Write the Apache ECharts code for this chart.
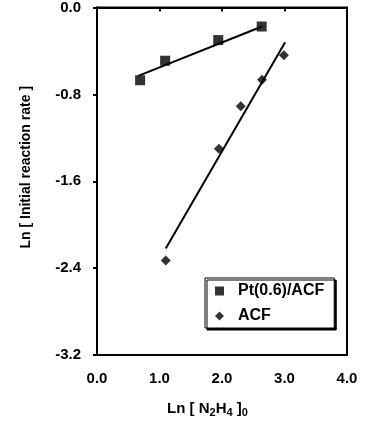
<!DOCTYPE html>
<html>
<head>
<meta charset="utf-8">
<script src="https://cdn.jsdelivr.net/npm/echarts@6/dist/echarts.min.js"></script>
<style>
    html, body {margin: 0; padding: 0; background: #fff;}
    #chart {width: 366px; height: 426px;}
</style>
</head>
<body>
<div id="chart"></div>
<script>
    // measured points, ln scale
    var ptX = [0.69, 1.09, 1.94, 2.635];
    var ptY = [-0.67, -0.49, -0.30, -0.175];
    var acfX = [1.10, 1.95, 2.30, 2.64, 2.99];
    var acfY = [-2.33, -1.30, -0.91, -0.665, -0.44];
    // fitted lines (end points)
    var ptFitX = [0.66, 2.64];
    var ptFitY = [-0.63, -0.175];
    var acfFitX = [1.10, 3.01];
    var acfFitY = [-2.22, -0.32];

    function pairs(xs, ys) {
        return xs.map(function (x, i) {
            return [x, ys[i]];
        });
    }

    var font = 'Liberation Sans, Arial, sans-serif';
    var chart = echarts.init(document.getElementById('chart'));
    var option = {
        animation: false,
        backgroundColor: '#fff',
        grid: {
            left: 97, right: 19, top: 7, bottom: 71,
            show: true, borderColor: '#000', borderWidth: 2
        },
        legend: {
            orient: 'vertical',
            left: 205,
            top: 278,
            padding: [5, 10, 4, 10],
            itemGap: 9,
            itemWidth: 9,
            itemHeight: 9,
            backgroundColor: '#fff',
            borderColor: '#000',
            borderWidth: 1,
            shadowColor: '#000',
            shadowBlur: 0,
            shadowOffsetX: 2,
            shadowOffsetY: 2,
            textStyle: {fontFamily: font, fontWeight: 'bold', fontSize: 16, color: '#000', padding: [0, 0, 0, 9]},
            data: [
                {name: 'Pt(0.6)/ACF', icon: 'rect'},
                {name: 'ACF', icon: 'diamond'}
            ]
        },
        xAxis: {
            type: 'value',
            min: 0, max: 4, interval: 1,
            name: 'Ln [ N{sub|2}H{sub|4} ]{sub|0}',
            nameLocation: 'middle',
            nameGap: 45,
            nameTextStyle: {
                fontFamily: font, fontWeight: 'bold', fontSize: 15, color: '#000',
                padding: [0, 29, 0, 0],
                rich: {
                    sub: {fontFamily: font, fontWeight: 'bold', fontSize: 11, color: '#000', padding: [7, 0, 0, 0]}
                }
            },
            axisLine: {lineStyle: {color: '#000', width: 2}},
            axisTick: {length: 4, lineStyle: {color: '#000', width: 2}},
            axisLabel: {
                margin: 16, color: '#000', fontFamily: font, fontWeight: 'bold', fontSize: 15,
                formatter: function (v) { return v.toFixed(1); }
            },
            splitLine: {show: false}
        },
        yAxis: {
            type: 'value',
            min: -3.2, max: 0, interval: 0.8,
            name: 'Ln [ Initial reaction rate ]',
            nameLocation: 'middle',
            nameGap: 64,
            nameTextStyle: {
                fontFamily: font, fontWeight: 'bold', fontSize: 14, color: '#000',
                padding: [0, 0, 0, 28]
            },
            axisLine: {lineStyle: {color: '#000', width: 2}},
            axisTick: {length: 4, lineStyle: {color: '#000', width: 2}},
            axisLabel: {
                margin: 16, color: '#000', fontFamily: font, fontWeight: 'bold', fontSize: 15,
                formatter: function (v) { return v.toFixed(1); }
            },
            splitLine: {show: false}
        },
        series: [
            {
                name: 'Pt(0.6)/ACF',
                type: 'scatter',
                symbol: 'rect',
                symbolSize: 10,
                itemStyle: {color: '#000'},
                data: pairs(ptX, ptY),
                z: 3
            },
            {
                name: 'ACF',
                type: 'scatter',
                symbol: 'diamond',
                symbolSize: 10,
                itemStyle: {color: '#000'},
                data: pairs(acfX, acfY),
                z: 3
            },
            {
                name: 'fitPt',
                type: 'line',
                showSymbol: false,
                lineStyle: {color: '#000', width: 2},
                data: pairs(ptFitX, ptFitY)
            },
            {
                name: 'fitAcf',
                type: 'line',
                showSymbol: false,
                lineStyle: {color: '#000', width: 2},
                data: pairs(acfFitX, acfFitY)
            }
        ]
    };
    chart.setOption(option);
</script>
</body>
</html>
